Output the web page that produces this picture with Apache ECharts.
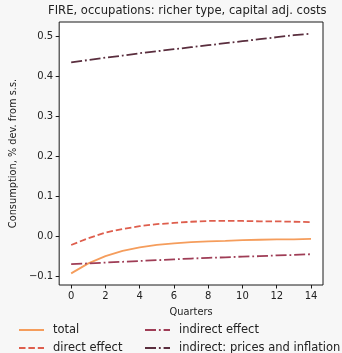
<!DOCTYPE html>
<html>
<head>
<meta charset="utf-8">
<script src="https://cdn.jsdelivr.net/npm/echarts@6/dist/echarts.min.js"></script>
<style>
  html, body { margin: 0; padding: 0; background: #f7f7f7; }
  #chart { width: 342px; height: 353px; }
</style>
</head>
<body>
<div id="chart"></div>
<script>
// Consumption response by quarter, % deviation from steady state
const quarters = [0, 1, 2, 3, 4, 5, 6, 7, 8, 9, 10, 11, 12, 13, 14];
const total = [-0.092, -0.067, -0.049, -0.036, -0.027, -0.021, -0.017, -0.014, -0.012, -0.011, -0.009, -0.008, -0.007, -0.007, -0.006];
const directEffect = [-0.021, -0.004, 0.010, 0.019, 0.026, 0.031, 0.034, 0.037, 0.039, 0.039, 0.039, 0.038, 0.038, 0.037, 0.036];
const indirectEffect = [-0.069, -0.067, -0.065, -0.063, -0.061, -0.059, -0.057, -0.055, -0.053, -0.052, -0.050, -0.049, -0.047, -0.046, -0.044];
const pricesInflation = [0.435, 0.441, 0.447, 0.452, 0.458, 0.463, 0.468, 0.473, 0.478, 0.483, 0.488, 0.493, 0.498, 0.503, 0.507];
const xTicks = [0, 2, 4, 6, 8, 10, 12, 14];
const yTicks = [-0.1, 0.0, 0.1, 0.2, 0.3, 0.4, 0.5];

const FONT = 'DejaVu Sans';
const pairs = arr => quarters.map((q, i) => [q, arr[i]]);

const seriesDefs = [
  { name: 'total', data: total, color: '#f59d5c', type: 'solid' },
  { name: 'direct effect', data: directEffect, color: '#de5e4d', type: [6.5, 2.9] },
  { name: 'indirect effect', data: indirectEffect, color: '#9f3d56', type: [11, 2.9, 1.8, 2.9] },
  { name: 'indirect: prices and inflation', data: pricesInflation, color: '#5a2e3e', type: [11, 2.9, 1.8, 2.9] }
];

const chart = echarts.init(document.getElementById('chart'), null, { renderer: 'canvas' });

const legendCommon = {
  orient: 'vertical',
  top: 324,
  height: 40,
  itemWidth: 25,
  itemHeight: 12,
  itemGap: 6,
  padding: 0,
  itemStyle: { opacity: 0 },
  textStyle: { fontFamily: FONT, fontSize: 11.5, color: '#222', padding: [0, 0, 0, 4] }
};

chart.setOption({
  backgroundColor: '#f7f7f7',
  animation: false,
  title: {
    text: 'FIRE, occupations: richer type, capital adj. costs',
    left: 48, top: 5, padding: 0,
    textStyle: { fontFamily: FONT, fontSize: 11.6, fontWeight: 'normal', color: '#222' }
  },
  legend: [
    Object.assign({ left: 18, data: ['total', 'direct effect'] }, legendCommon),
    Object.assign({ left: 144, data: ['indirect effect', 'indirect: prices and inflation'] }, legendCommon)
  ],
  grid: {
    left: 53, right: 19, top: 22, bottom: 68,
    show: true, backgroundColor: '#ffffff', borderColor: '#1a1a1a', borderWidth: 1
  },
  xAxis: {
    type: 'value', min: -0.7, max: 14.7,
    name: 'Quarters', nameLocation: 'middle', nameGap: 22,
    nameTextStyle: { fontFamily: FONT, fontSize: 9.8, color: '#222' },
    axisLine: { show: false, onZero: false },
    splitLine: { show: false },
    axisTick: { show: true, length: 3.5, customValues: xTicks, lineStyle: { color: '#1a1a1a' } },
    axisLabel: { customValues: xTicks, margin: 6, fontFamily: FONT, fontSize: 10, color: '#222' }
  },
  yAxis: {
    type: 'value', min: -0.121, max: 0.536,
    name: 'Consumption, % dev. from s.s.', nameLocation: 'middle', nameGap: 38,
    nameTextStyle: { fontFamily: FONT, fontSize: 9.8, color: '#222' },
    axisLine: { show: false, onZero: false },
    splitLine: { show: false },
    axisTick: { show: true, length: 3.5, customValues: yTicks, lineStyle: { color: '#1a1a1a' } },
    axisLabel: {
      customValues: yTicks, margin: 6, fontFamily: FONT, fontSize: 10, color: '#222',
      formatter: v => v.toFixed(1).replace('-', '\u2212')
    }
  },
  series: seriesDefs.map(s => ({
    name: s.name,
    type: 'line',
    data: pairs(s.data),
    showSymbol: false,
    symbol: 'none',
    color: s.color,
    lineStyle: { color: s.color, width: 1.8, type: s.type }
  }))
});
</script>
</body>
</html>
